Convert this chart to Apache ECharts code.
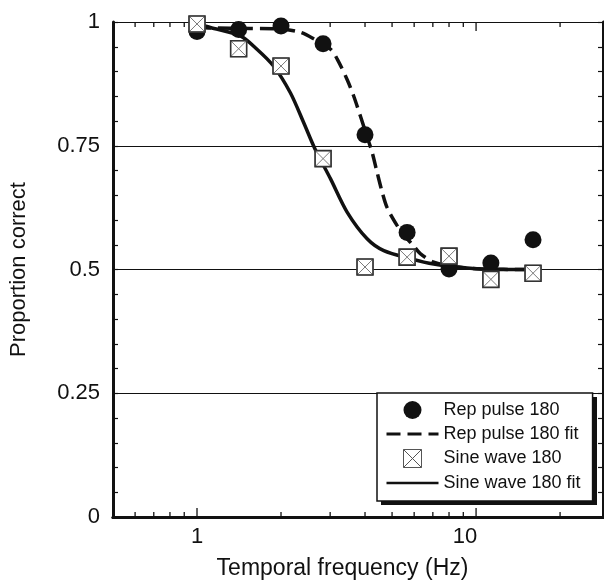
<!DOCTYPE html>
<html>
<head>
<meta charset="utf-8">
<script src="https://cdn.jsdelivr.net/npm/echarts@6/dist/echarts.min.js"></script>
<style>
  html, body { margin: 0; padding: 0; background: #fff; }
  #chart { width: 604px; height: 585px; }
</style>
</head>
<body>
<div id="chart"></div>
<script>
  // temporal frequencies (Hz) of the measured points
  const freqs = [1, 1.41, 2, 2.83, 4, 5.66, 8, 11.3, 16];
  const repPulse = [0.981, 0.985, 0.992, 0.956, 0.772, 0.575, 0.501, 0.513, 0.560];
  const sineWave = [0.996, 0.946, 0.911, 0.724, 0.505, 0.525, 0.527, 0.480, 0.4925];

  // fitted curves as [freq, proportion]
  const repPulseFit = [
    [1.0, 0.99], [1.12, 0.988], [1.55, 0.987], [2.0, 0.986], [2.35, 0.979],
    [2.62, 0.966], [3.01, 0.945], [3.18, 0.925], [3.45, 0.884], [3.64, 0.851],
    [3.85, 0.810], [4.06, 0.770], [4.24, 0.737], [4.42, 0.696], [4.61, 0.656],
    [4.80, 0.625], [5.21, 0.589], [5.50, 0.570], [5.97, 0.548], [6.31, 0.532],
    [7.05, 0.515], [8.55, 0.505], [10.4, 0.501], [16, 0.500]
  ];
  const sineWaveFit = [
    [1.0, 0.996], [1.116, 0.989], [1.43, 0.972], [1.64, 0.945], [1.88, 0.911],
    [2.16, 0.857], [2.41, 0.797], [2.65, 0.743], [3.01, 0.683], [3.45, 0.616],
    [4.07, 0.562], [4.67, 0.538], [5.81, 0.522], [7.05, 0.511], [9.29, 0.503],
    [12.2, 0.500], [16, 0.500]
  ];

  // ticks of the log axis (drawn on top and bottom)
  const xMajorTicks = [1, 10];
  const xMinorTicks = [0.6, 0.7, 0.8, 0.9, 2, 3, 4, 5, 6, 7, 8, 9, 20];

  const FONT = 'Liberation Sans, Arial, Helvetica, sans-serif';
  const INK = '#111';
  const CLEAR = 'rgba(0,0,0,0)';
  const DASH = [14, 7];

  const squareX = 'path://M0,0L20,0L20,20L0,20Z M0,0L20,20 M20,0L0,20';
  const squareOnly = 'path://M0,0L20,0L20,20L0,20Z';

  let myChart = echarts.init(document.getElementById('chart'));

  const xAxisBase = {
    type: 'log',
    logBase: 10,
    min: 0.5,
    max: 28.5,
    axisLine: { lineStyle: { color: INK, width: 3 } },
    axisTick: { show: false },
    splitLine: { show: false },
    minorTick: { show: false },
    minorSplitLine: { show: false }
  };

  const yAxisBase = {
    type: 'value',
    min: 0,
    max: 1,
    interval: 0.25,
    axisLine: { show: true, lineStyle: { color: INK, width: 3 } },
    axisTick: { show: true, inside: true, length: 5, lineStyle: { color: INK, width: 1.2 } },
    minorTick: { show: true, splitNumber: 5, length: 5, lineStyle: { color: INK, width: 1.2 } },
    minorSplitLine: { show: false }
  };

  function tickItem(len) {
    return function (params, api) {
      let v = api.value(0);
      let b = api.coord([v, 0]);
      let t = api.coord([v, 1]);
      let st = { stroke: INK, lineWidth: 1.3 };
      return {
        type: 'group',
        children: [
          { type: 'line', shape: { x1: b[0], y1: b[1], x2: b[0], y2: b[1] - len }, style: st },
          { type: 'line', shape: { x1: t[0], y1: t[1], x2: t[0], y2: t[1] + len }, style: st }
        ]
      };
    };
  }

  let option = {
    backgroundColor: '#fff',
    animation: false,
    textStyle: { fontFamily: FONT, color: INK },
    grid: {
      left: 113, right: 1, top: 22, bottom: 68,
      containLabel: false,
      outerBoundsMode: 'none'
    },
    graphic: [
      {
        // hard drop shadow behind the legend box
        type: 'rect',
        silent: true,
        z: 3,
        shape: { x: 381, y: 397, width: 216, height: 108 },
        style: { fill: INK }
      }
    ],
    legend: {
      orient: 'vertical',
      left: 377,
      top: 393,
      z: 10,
      itemWidth: 52,
      itemHeight: 18,
      itemGap: 6,
      padding: [8, 12, 9, 8],
      backgroundColor: '#fff',
      borderColor: INK,
      borderWidth: 1.5,
      borderRadius: 0,
      textStyle: { fontFamily: FONT, fontSize: 18, color: INK },
      data: [
        'Rep pulse 180',
        { name: 'Rep pulse 180 fit', lineStyle: { color: INK, width: 3, type: DASH } },
        { name: 'Sine wave 180', itemStyle: { borderColor: '#555', borderWidth: 1 } },
        { name: 'Sine wave 180 fit', lineStyle: { color: INK, width: 2.5 } }
      ]
    },
    xAxis: [
      Object.assign({}, xAxisBase, {
        position: 'bottom',
        name: 'Temporal frequency (Hz)',
        nameLocation: 'middle',
        nameGap: 40,
        nameTextStyle: { fontFamily: FONT, fontSize: 23, color: INK, padding: [0, 31, 0, 0] },
        axisLabel: {
          margin: 9,
          fontFamily: FONT,
          fontSize: 22,
          color: INK,
          formatter: function (v) {
            let hit = xMajorTicks.find(l => Math.abs(l - v) < 1e-6);
            if (hit === undefined) return '';
            return hit === 10 ? '{s|10}' : String(hit);
          },
          rich: {
            s: { fontFamily: FONT, fontSize: 22, color: INK, padding: [0, 22, 0, 0] }
          }
        }
      }),
      Object.assign({}, xAxisBase, {
        position: 'top',
        axisLabel: { show: false }
      })
    ],
    yAxis: [
      Object.assign({}, yAxisBase, {
        position: 'left',
        name: 'Proportion correct',
        nameLocation: 'middle',
        nameGap: 83,
        nameRotate: 90,
        nameTextStyle: { fontFamily: FONT, fontSize: 22, color: INK },
        axisLabel: { margin: 13, fontFamily: FONT, fontSize: 22, color: INK },
        splitLine: { show: true, lineStyle: { color: INK, width: 1 } }
      }),
      Object.assign({}, yAxisBase, {
        position: 'right',
        axisLabel: { show: false },
        splitLine: { show: false }
      })
    ],
    series: [
      {
        type: 'custom',
        silent: true,
        z: 1,
        data: xMinorTicks.map(v => [v, 0]),
        renderItem: tickItem(5)
      },
      {
        type: 'custom',
        silent: true,
        z: 1,
        data: xMajorTicks.map(v => [v, 0]),
        renderItem: tickItem(9)
      },
      {
        name: 'Sine wave 180 fit',
        type: 'line',
        data: sineWaveFit,
        symbol: 'none',
        smooth: 0.3,
        z: 2,
        lineStyle: { color: INK, width: 3.5 },
        itemStyle: { color: CLEAR }
      },
      {
        name: 'Rep pulse 180 fit',
        type: 'line',
        data: repPulseFit,
        symbol: 'none',
        smooth: 0.3,
        z: 2,
        lineStyle: { color: INK, width: 3.5, type: DASH },
        itemStyle: { color: CLEAR }
      },
      {
        name: 'Rep pulse 180',
        type: 'scatter',
        data: freqs.map((f, i) => [f, repPulse[i]]),
        symbol: 'circle',
        symbolSize: 17,
        z: 3,
        itemStyle: { color: INK, opacity: 1 }
      },
      {
        name: 'Sine wave 180',
        type: 'scatter',
        data: freqs.map((f, i) => [f, sineWave[i]]),
        symbol: squareX,
        symbolSize: 16,
        z: 4,
        itemStyle: { color: '#fff', borderColor: '#7a7a7a', borderWidth: 1, opacity: 1 }
      },
      {
        // dark outline of the square markers
        type: 'scatter',
        silent: true,
        data: freqs.map((f, i) => [f, sineWave[i]]),
        symbol: squareOnly,
        symbolSize: 16,
        z: 5,
        itemStyle: { color: CLEAR, borderColor: '#333', borderWidth: 1.6, opacity: 1 }
      }
    ]
  };
  myChart.setOption(option);
</script>
</body>
</html>
